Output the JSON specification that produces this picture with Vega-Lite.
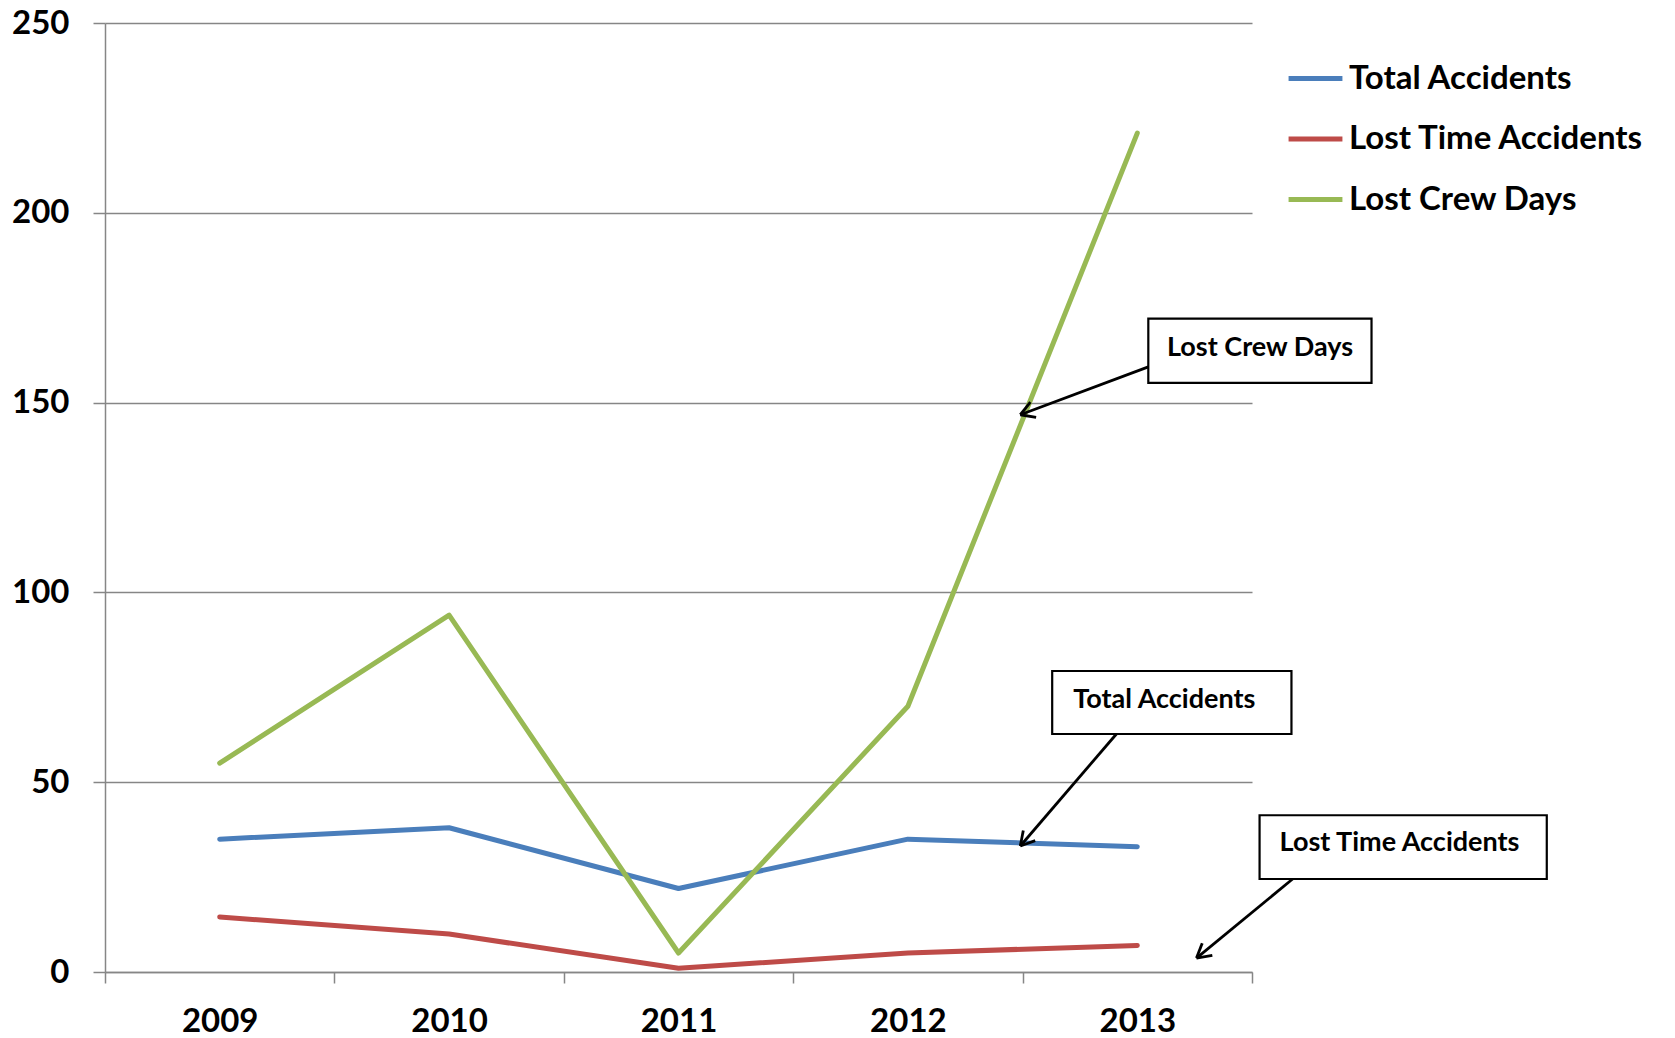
{
  "$schema": "https://vega.github.io/schema/vega-lite/v6.json",
  "width": 1147,
  "height": 949,
  "autosize": {"type": "none"},
  "padding": {"left": 105, "top": 23, "right": 423, "bottom": 66},
  "background": "white",
  "datasets": {
    "series": [
      {"year": 2009, "series": "Total Accidents", "value": 35},
      {"year": 2010, "series": "Total Accidents", "value": 38},
      {"year": 2011, "series": "Total Accidents", "value": 22},
      {"year": 2012, "series": "Total Accidents", "value": 35},
      {"year": 2013, "series": "Total Accidents", "value": 33},
      {"year": 2009, "series": "Lost Time Accidents", "value": 14.5},
      {"year": 2010, "series": "Lost Time Accidents", "value": 10},
      {"year": 2011, "series": "Lost Time Accidents", "value": 1},
      {"year": 2012, "series": "Lost Time Accidents", "value": 5},
      {"year": 2013, "series": "Lost Time Accidents", "value": 7},
      {"year": 2009, "series": "Lost Crew Days", "value": 55},
      {"year": 2010, "series": "Lost Crew Days", "value": 94},
      {"year": 2011, "series": "Lost Crew Days", "value": 5},
      {"year": 2012, "series": "Lost Crew Days", "value": 70},
      {"year": 2013, "series": "Lost Crew Days", "value": 221}
    ],
    "boxes": [
      {"label": "Lost Crew Days", "x1": 2013.048, "x2": 2014.021, "y1": 155.2, "y2": 172.1, "tx": 2013.535, "ty": 164.5},
      {"label": "Total Accidents", "x1": 2012.629, "x2": 2013.672, "y1": 62.7, "y2": 79.3, "tx": 2013.118, "ty": 71.7},
      {"label": "Lost Time Accidents", "x1": 2013.533, "x2": 2014.785, "y1": 24.5, "y2": 41.3, "tx": 2014.143, "ty": 34.0}
    ],
    "arrows": [
      {"x1": 2013.048, "y1": 159.4, "x2": 2012.49, "y2": 146.8},
      {"x1": 2012.559, "y1": 146.1, "x2": 2012.49, "y2": 146.8},
      {"x1": 2012.534, "y1": 150.1, "x2": 2012.49, "y2": 146.8},
      {"x1": 2012.909, "y1": 62.7, "x2": 2012.49, "y2": 33.2},
      {"x1": 2012.555, "y1": 34.6, "x2": 2012.49, "y2": 33.2},
      {"x1": 2012.503, "y1": 37.3, "x2": 2012.49, "y2": 33.2},
      {"x1": 2013.677, "y1": 24.5, "x2": 2013.258, "y2": 3.66},
      {"x1": 2013.327, "y1": 4.36, "x2": 2013.258, "y2": 3.66},
      {"x1": 2013.283, "y1": 7.59, "x2": 2013.258, "y2": 3.66}
    ]
  },
  "layer": [
    {
      "data": {"name": "series"},
      "mark": {"type": "line", "strokeWidth": 5, "strokeCap": "round", "strokeJoin": "round"},
      "encoding": {
        "x": {
          "field": "year", "type": "quantitative", "title": null,
          "scale": {"domain": [2008.5, 2013.5], "nice": false, "zero": false},
          "axis": {
            "values": [2008.5, 2009, 2009.5, 2010, 2010.5, 2011, 2011.5, 2012, 2012.5, 2013, 2013.5],
            "labelExpr": "datum.value % 1 === 0 ? toString(datum.value) : ''",
            "tickOpacity": {"condition": {"test": "datum.value % 1 === 0", "value": 0}, "value": 1},
            "labelOverlap": false,
            "labelFlush": false,
            "grid": false,
            "tickSize": 11,
            "tickWidth": 1.5,
            "tickColor": "#868686",
            "domainColor": "#868686",
            "domainWidth": 1.5,
            "labelFont": "Lato",
            "labelFontWeight": "bold",
            "labelFontSize": 33,
            "labelColor": "black",
            "labelPadding": 22
          }
        },
        "y": {
          "field": "value", "type": "quantitative", "title": null,
          "scale": {"domain": [0, 250], "nice": false},
          "axis": {
            "values": [0, 50, 100, 150, 200, 250],
            "grid": true,
            "gridColor": "#868686",
            "gridWidth": 1.5,
            "tickSize": 12,
            "tickWidth": 1.5,
            "tickColor": "#868686",
            "domainColor": "#868686",
            "domainWidth": 1.5,
            "labelFont": "Lato",
            "labelFontWeight": "bold",
            "labelFontSize": 33,
            "labelColor": "black",
            "labelPadding": 24
          }
        },
        "color": {
          "field": "series", "type": "nominal", "title": null,
          "scale": {
            "domain": ["Total Accidents", "Lost Time Accidents", "Lost Crew Days"],
            "range": ["#4A7EBB", "#BE4B48", "#98B954"]
          },
          "legend": {
            "orient": "none",
            "legendX": 1181,
            "legendY": 26,
            "symbolType": "stroke",
            "symbolSize": 2900,
            "symbolStrokeWidth": 5,
            "labelFont": "Lato",
            "labelFontWeight": "bold",
            "labelFontSize": 33,
            "labelColor": "black",
            "labelOffset": 4,
            "rowPadding": 13.5,
            "labelLimit": 450
          }
        }
      }
    },
    {
      "data": {"name": "arrows"},
      "mark": {"type": "rule", "color": "black", "strokeWidth": 2.8},
      "encoding": {
        "x": {"field": "x1", "type": "quantitative", "title": null},
        "y": {"field": "y1", "type": "quantitative", "title": null},
        "x2": {"field": "x2"},
        "y2": {"field": "y2"}
      }
    },
    {
      "data": {"name": "boxes"},
      "mark": {"type": "rect", "fill": "white", "stroke": "black", "strokeWidth": 2.2},
      "encoding": {
        "x": {"field": "x1", "type": "quantitative", "title": null},
        "x2": {"field": "x2"},
        "y": {"field": "y1", "type": "quantitative", "title": null},
        "y2": {"field": "y2"}
      }
    },
    {
      "data": {"name": "boxes"},
      "mark": {"type": "text", "font": "Lato", "fontWeight": "bold", "fontSize": 27, "color": "black", "align": "center", "baseline": "middle"},
      "encoding": {
        "x": {"field": "tx", "type": "quantitative", "title": null},
        "y": {"field": "ty", "type": "quantitative", "title": null},
        "text": {"field": "label"}
      }
    }
  ],
  "config": {"view": {"stroke": null}}
}
